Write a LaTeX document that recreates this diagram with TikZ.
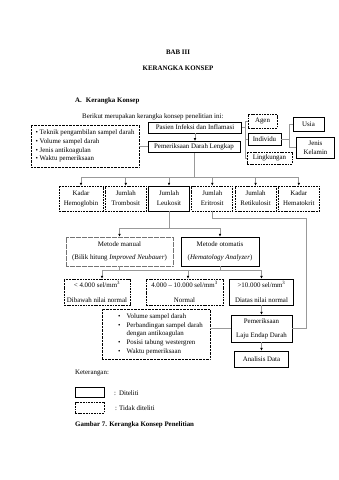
\documentclass[tikz,border=0pt]{standalone}
\usepackage{fontspec}
\setmainfont{Liberation Serif}
\usetikzlibrary{arrows.meta,positioning}
\begin{document}
\begin{tikzpicture}[x=1pt,y=-1pt,node distance=1.6pt,>={Latex[length=2.8pt,width=2.6pt,color=black]},
  every node/.style={font=\fontsize{6.9}{10}\selectfont,inner sep=0pt,align=center},
  teks/.style={font=\fontsize{6.9}{8}\selectfont},
  judul/.style={font=\fontsize{6.9}{8}\selectfont\bfseries},
  solidbox/.style={draw,line width=0.7pt},
  dashbox/.style={draw,line width=0.65pt,dash pattern=on 1.8pt off 0.9pt},
  dotbox/.style={draw,line width=0.75pt,dash pattern=on 0.7pt off 0.7pt},
  greybox/.style={draw=black!55,line width=0.65pt,dash pattern=on 0.7pt off 0.5pt},
  conn/.style={draw=black!40,line width=0.65pt}]
  \fill[white] (0,0) rectangle (339,480);
  \node[judul] (bab) at (178,52) {BAB III};
  \node[judul] (judulbab) at (178,68) {KERANGKA KONSEP};
  \node[judul,anchor=west] (subbab) at (75,101) {A.\hspace{4pt}Kerangka Konsep};
  \node[teks,anchor=west] (pengantar) at (82,117) {Berikut merupakan kerangka konsep penelitian ini:};
  \node[solidbox,minimum width=93pt,minimum height=11pt] (pasien) at (195,127.5) {Pasien Infeksi dan Inflamasi};
  \node[solidbox,minimum width=92pt,minimum height=11.5pt] (darah) at (194,147) {Pemeriksaan Darah Lengkap};
  \node[dashbox,minimum width=29pt,minimum height=14pt] (agen) at (262.5,121) {Agen};
  \node[solidbox,minimum width=33pt,minimum height=12pt] (individu) at (264.5,139) {Individu};
  \node[dashbox,minimum width=45pt,minimum height=12pt] (lingkungan) at (269.5,158) {Lingkungan};
  \node[solidbox,minimum width=31pt,minimum height=14pt] (usia) at (308.5,124) {Usia};
  \node[solidbox,minimum width=38pt,minimum height=21pt,font=\fontsize{6.9}{8.5}\selectfont] (kelamin) at (315.5,147.5) {Jenis\\Kelamin};
  \node[dotbox,minimum width=108pt,minimum height=42pt,align=left,font=\fontsize{6.9}{8.7}\selectfont] (teknik) at (85,146) {\textbullet\ Teknik pengambilan sampel darah\\\textbullet\ Volume sampel darah\\\textbullet\ Jenis antikoagulan\\\textbullet\ Waktu pemeriksaan};
  \node[dashbox,minimum width=44pt,minimum height=25pt] (hb) at (81,198.5) {Kadar\\Hemoglobin};
  \node[dashbox,minimum width=41pt,minimum height=25pt,right=of hb] (trombosit) {Jumlah\\Trombosit};
  \node[solidbox,minimum width=41pt,minimum height=25pt,right=of trombosit] (leukosit) {Jumlah\\Leukosit};
  \node[dashbox,minimum width=41pt,minimum height=25pt,right=of leukosit] (eritrosit) {Jumlah\\Eritrosit};
  \node[dashbox,minimum width=41pt,minimum height=25pt,right=of eritrosit] (retikulosit) {Jumlah\\Retikulosit};
  \node[dashbox,minimum width=41pt,minimum height=25pt,right=of retikulosit] (hematokrit) {Kadar\\Hematokrit};
  \node[greybox,minimum width=107pt,minimum height=29pt,font=\fontsize{6.9}{13}\selectfont] (manual) at (119.5,251.5) {Metode manual\\(Bilik hitung \textit{Improved Neubauer})};
  \node[solidbox,minimum width=78pt,minimum height=29pt,font=\fontsize{6.9}{13}\selectfont] (otomatis) at (220,251.5) {Metode otomatis\\(\textit{Hematology Analyzer})};
  \node[dashbox,minimum width=66pt,minimum height=26pt,font=\fontsize{6.9}{15}\selectfont] (rendah) at (97,292) {< 4.000 sel/mm\textsuperscript{3}\\Dibawah nilai normal};
  \node[dashbox,minimum width=77pt,minimum height=26pt,font=\fontsize{6.9}{15}\selectfont] (normal) at (184.5,292) {4.000 -- 10.000 sel/mm\textsuperscript{3}\\Normal};
  \node[solidbox,minimum width=64pt,minimum height=26pt,font=\fontsize{6.9}{15}\selectfont] (tinggi) at (261.5,292) {>10.000 sel/mm\textsuperscript{3}\\Diatas nilai normal};
  \node[solidbox,minimum width=61pt,minimum height=27pt,font=\fontsize{6.9}{14}\selectfont] (led) at (261.5,328.5) {Pemeriksaan\\Laju Endap Darah};
  \node[solidbox,minimum width=54pt,minimum height=16pt] (analisis) at (261.5,359) {Analisis Data};
  \node[dotbox,minimum width=108pt,minimum height=50pt,font=\fontsize{6.9}{8.7}\selectfont] (faktor) at (156,334) {\begin{tabular}{@{\hspace{9pt}}l@{\hspace{6pt}}l@{}}\textbullet & Volume sampel darah\\ \textbullet & Perbandingan sampel darah\\ & dengan antikoagulan\\ \textbullet & Posisi tabung westergren\\ \textbullet & Waktu pemeriksaan\end{tabular}};
  \node[teks,anchor=west] (ket) at (75,373) {Keterangan:};
  \node[solidbox,minimum width=29pt,minimum height=10pt] (lgdteliti) at (89.5,392) {};
  \node[teks,anchor=west] (txtteliti) at (114,393) {:\hspace{3pt}Diteliti};
  \node[dashbox,minimum width=29pt,minimum height=11pt] (lgdtidak) at (89.5,407.5) {};
  \node[teks,anchor=west] (txttidak) at (115,408) {:\hspace{2pt}Tidak diteliti};
  \node[judul,anchor=west] (gambar) at (75,425) {Gambar 7. Kerangka Konsep Penelitian};
  \coordinate (kiri) at (245,0); \coordinate (kanan) at (289,0);
  \coordinate (bus1) at (0,177); \coordinate (bus2) at (0,228); \coordinate (bus3) at (0,270);
  \coordinate (belok) at (306,218);
  \coordinate (p1) at (102,270); \coordinate (p2) at (188,270); \coordinate (p3) at (261.5,270);
  \draw[conn] (pasien.east) -- (pasien.east -| kiri); \draw[conn] (individu.west) -- (individu.west -| kiri);
  \draw[conn] (agen.west) -| (kiri |- lingkungan.west) -- (lingkungan.west);
  \draw[conn] (individu.east) -- (individu.east -| kanan); \draw[conn] (usia.west) -| (kanan |- kelamin.west) -- (kelamin.west);
  \draw[conn] (teknik.east) -- (teknik.east -| darah.west); \draw[conn,->] (pasien.south) -- (pasien.south |- darah.north);
  \draw[conn] (darah.south) -- (darah.south |- bus1); \draw[conn] (hb.north |- bus1) -- (hematokrit.north |- bus1);
  \foreach \n in {hb,trombosit,leukosit,eritrosit,retikulosit,hematokrit} \draw[conn,->] (\n.north |- bus1) -- (\n.north);
  \draw[conn] (leukosit.south) -- (leukosit.south |- bus2); \draw[conn] (manual.north |- bus2) -- (otomatis.north |- bus2);
  \draw[conn,->] (manual.north |- bus2) -- (manual.north); \draw[conn,->] (otomatis.north |- bus2) -- (otomatis.north);
  \draw[conn] (manual.south) -- (manual.south |- bus3); \draw[conn] (otomatis.south) -- (otomatis.south |- bus3);
  \draw[conn] (p1) -- (p3);
  \draw[conn,->] (p1) -- (p1 |- rendah.north); \draw[conn,->] (p2) -- (p2 |- normal.north); \draw[conn,->] (p3) -- (p3 |- tinggi.north);
  \draw[conn] (eritrosit.south) |- (belok) |- (led.east);
  \draw[conn,->] (tinggi) -- (led); \draw[conn,->] (led) -- (analisis);
  \draw[conn] (faktor.east |- led.west) -- (led.west);
\end{tikzpicture}
\end{document}
